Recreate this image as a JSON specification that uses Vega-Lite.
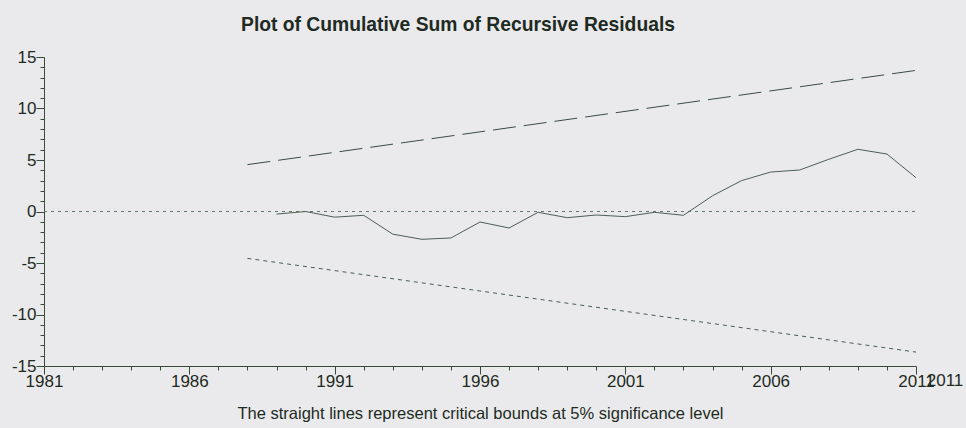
{
  "$schema": "https://vega.github.io/schema/vega-lite/v6.json",
  "width": 872,
  "height": 309,
  "autosize": {"type": "none"},
  "padding": {"left": 44, "top": 57, "right": 50, "bottom": 62},
  "background": "#EAEAEC",
  "config": {
    "view": {"stroke": null},
    "font": "Liberation Sans",
    "axis": {
      "grid": false,
      "domainColor": "#3a4a3a",
      "tickColor": "#3a4a3a",
      "labelColor": "#1e2a22",
      "labelFont": "Liberation Sans",
      "labelFontSize": 17,
      "labelOverlap": false,
      "labelFlush": false,
      "titleFont": "Liberation Sans",
      "titleFontSize": 16.5,
      "titleFontWeight": "normal",
      "titleColor": "#1e2a22"
    }
  },
  "title": {
    "text": "Plot of Cumulative Sum of Recursive Residuals",
    "font": "Liberation Sans",
    "fontSize": 19.3,
    "fontWeight": "bold",
    "color": "#1e2a22",
    "anchor": "middle",
    "baseline": "alphabetic",
    "offset": 19,
    "dy": 21,
    "dx": -22
  },
  "encoding": {
    "x": {
      "field": "year", "type": "quantitative",
      "scale": {"domain": [1981, 2011], "zero": false, "nice": false},
      "axis": {
        "values": [1981,1982,1983,1984,1985,1986,1987,1988,1989,1990,1991,1992,1993,1994,1995,1996,1997,1998,1999,2000,2001,2002,2003,2004,2005,2006,2007,2008,2009,2010,2011],
        "labelExpr": "(datum.value - 1981) % 5 === 0 || datum.value === 2011 ? toString(datum.value) : ''",
        "tickSize": {"condition": {"test": "(datum.value - 1981) % 5 === 0 || datum.value === 2011", "value": 8}, "value": 4},
        "labelPadding": -1,
        "labelOverlap": false,
        "labelFlush": false,
        "title": "The straight lines represent critical bounds at 5% significance level",
        "titleBaseline": "alphabetic",
        "titleY": 52
      }
    },
    "y": {
      "field": "v", "type": "quantitative",
      "scale": {"domain": [-15, 15], "nice": false},
      "axis": {
        "values": [-15,-14,-13,-12,-11,-10,-9,-8,-7,-6,-5,-4,-3,-2,-1,0,1,2,3,4,5,6,7,8,9,10,11,12,13,14,15],
        "labelExpr": "datum.value % 5 === 0 ? toString(datum.value) : ''",
        "tickSize": {"condition": {"test": "datum.value % 5 === 0", "value": 8}, "value": 4},
        "labelPadding": 0,
        "labelOverlap": false,
        "labelFlush": false,
        "title": null
      }
    }
  },
  "layer": [
    {
      "data": {"values": [{"year": 1981, "v": 0}, {"year": 2011, "v": 0}]},
      "mark": {"type": "line", "stroke": "#66786c", "strokeWidth": 1, "strokeDash": [3, 4]}
    },
    {
      "data": {"values": [{"year": 1988, "v": 4.55}, {"year": 2011, "v": 13.7}]},
      "mark": {"type": "line", "stroke": "#3b4b45", "strokeWidth": 1, "strokeDash": [23, 8]}
    },
    {
      "data": {"values": [{"year": 1988, "v": -4.55}, {"year": 2011, "v": -13.65}]},
      "mark": {"type": "line", "stroke": "#4b5b55", "strokeWidth": 1, "strokeDash": [4, 4]}
    },
    {
      "data": {"values": [
        {"year": 1989, "v": -0.25},
        {"year": 1990, "v": 0.0},
        {"year": 1991, "v": -0.55},
        {"year": 1992, "v": -0.37},
        {"year": 1993, "v": -2.2},
        {"year": 1994, "v": -2.7},
        {"year": 1995, "v": -2.57},
        {"year": 1996, "v": -1.02},
        {"year": 1997, "v": -1.6},
        {"year": 1998, "v": -0.08},
        {"year": 1999, "v": -0.6},
        {"year": 2000, "v": -0.34},
        {"year": 2001, "v": -0.5},
        {"year": 2002, "v": -0.08},
        {"year": 2003, "v": -0.37},
        {"year": 2004, "v": 1.53},
        {"year": 2005, "v": 3.0},
        {"year": 2006, "v": 3.83},
        {"year": 2007, "v": 4.03},
        {"year": 2008, "v": 5.07},
        {"year": 2009, "v": 6.04},
        {"year": 2010, "v": 5.58},
        {"year": 2011, "v": 3.28}
      ]},
      "mark": {"type": "line", "stroke": "#4d5e55", "strokeWidth": 1}
    },
    {
      "data": {"values": [{"year": 2011, "v": -15, "label": "2011"}]},
      "mark": {"type": "text", "font": "Liberation Sans", "fontSize": 17, "color": "#1e2a22", "align": "center", "baseline": "top", "dx": 29, "dy": 7},
      "encoding": {
        "text": {"field": "label"}
      }
    }
  ]
}
